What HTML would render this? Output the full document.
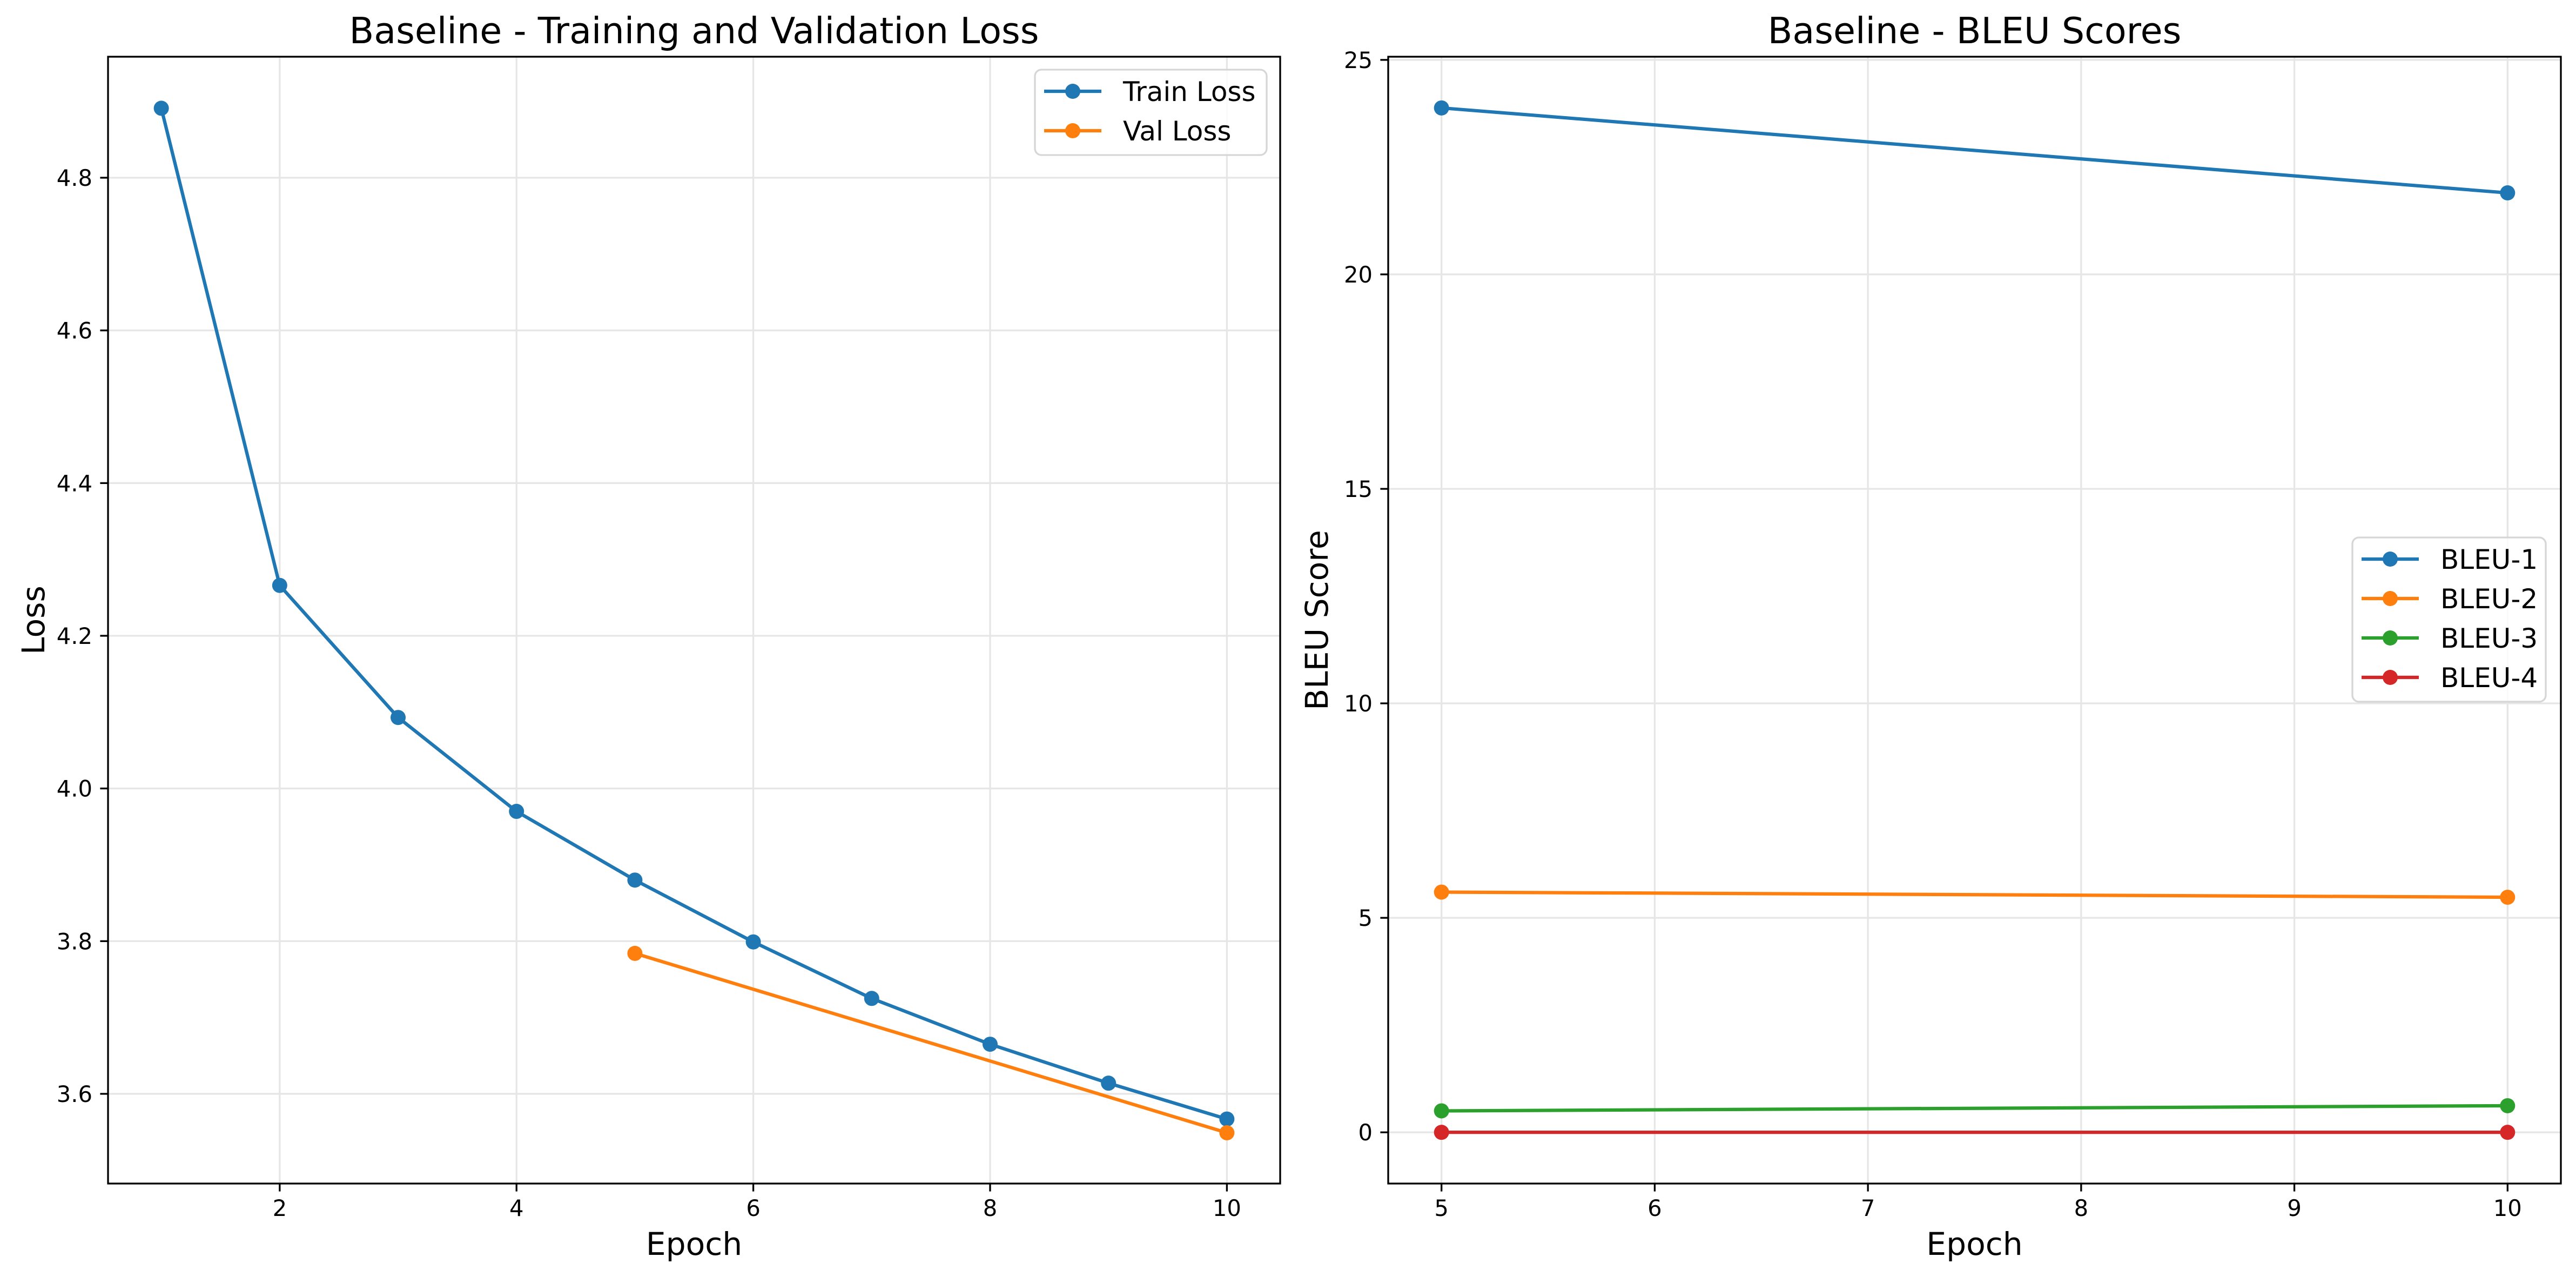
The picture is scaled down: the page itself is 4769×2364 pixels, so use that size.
<!DOCTYPE html>
<html><head><meta charset="utf-8"><style>
html,body{margin:0;padding:0;background:#fff;}
svg{display:block;font-family:"DejaVu Sans","Liberation Sans",sans-serif;}
</style></head><body>
<svg id="fig" width="4769" height="2364" viewBox="0 0 4769 2364" xmlns="http://www.w3.org/2000/svg"></svg>
<script>
const lossEpochs = [1,2,3,4,5,6,7,8,9,10];
const trainLoss = [4.891,4.266,4.093,3.970,3.880,3.799,3.725,3.665,3.614,3.567];
const valEpochs = [5,10];
const valLoss = [3.784,3.549];
const lossXTicks = [2,4,6,8,10];
const lossYTicks = [3.6,3.8,4.0,4.2,4.4,4.6,4.8];
const lossYTickLabels = ["3.6","3.8","4.0","4.2","4.4","4.6","4.8"];
const bleuEpochs = [5,10];
const bleu1 = [23.88,21.90];
const bleu2 = [5.60,5.48];
const bleu3 = [0.50,0.62];
const bleu4 = [0.00,0.00];
const bleuXTicks = [5,6,7,8,9,10];
const bleuYTicks = [0,5,10,15,20,25];

const NS="http://www.w3.org/2000/svg";
const svg=document.getElementById('fig');
function mk(tag,attrs,parent,text){const e=document.createElementNS(NS,tag);for(const k in attrs)e.setAttribute(k,attrs[k]);if(text!==undefined)e.textContent=text;(parent||svg).appendChild(e);return e;}
const C={blue:"#1f77b4",orange:"#ff7f0e",green:"#2ca02c",red:"#d62728"};
const MR=14;

function axes(o){
  const g=mk('g',{});
  
  
  const sx=v=>o.x0+(v-o.xmin)/(o.xmax-o.xmin)*(o.x1-o.x0);
  const sy=v=>o.y1-(v-o.ymin)/(o.ymax-o.ymin)*(o.y1-o.y0);
  o.xt.forEach(t=>{const l=mk('line',{x1:sx(t),x2:sx(t),y1:o.y0,y2:o.y1,stroke:"#e6e6e6","stroke-width":3.3},g);});
  o.yt.forEach(t=>{const l=mk('line',{x1:o.x0,x2:o.x1,y1:sy(t),y2:sy(t),stroke:"#e6e6e6","stroke-width":3.3},g);});
  o.series.forEach(s=>{
    const sg=mk('g',{},g);
    
    
    mk('polyline',{points:s.x.map((x,i)=>sx(x)+','+sy(s.y[i])).join(' '),fill:"none",stroke:s.c,"stroke-width":6.25,"stroke-linejoin":"round"},sg);
    s.x.forEach((x,i)=>{const c=mk('circle',{cx:sx(x),cy:sy(s.y[i]),r:MR,fill:s.c},sg);});
  });
  mk('rect',{x:o.x0,y:o.y0,width:o.x1-o.x0,height:o.y1-o.y0,fill:"none",stroke:"#000","stroke-width":3.3},g);
  o.xt.forEach((t,i)=>{mk('line',{x1:sx(t),x2:sx(t),y1:o.y1,y2:o.y1+14.6,stroke:"#000","stroke-width":3.3},g);
    const tx=mk('text',{x:sx(t),y:o.y1+60,"font-size":41.7,"text-anchor":"middle"},g,String(t));});
  o.yt.forEach((t,i)=>{mk('line',{x1:o.x0-14.6,x2:o.x0,y1:sy(t),y2:sy(t),stroke:"#000","stroke-width":3.3},g);
    const tx=mk('text',{x:o.x0-29,y:sy(t)+15,"font-size":41.7,"text-anchor":"end"},g,o.ytl[i]);});
  const ti=mk('text',{x:(o.x0+o.x1)/2,y:80,"font-size":66.7,"text-anchor":"middle"},g,o.title);
  const xl=mk('text',{x:(o.x0+o.x1)/2,y:2323,"font-size":58.3,"text-anchor":"middle"},g,"Epoch");
  const yl=mk('text',{x:0,y:0,"font-size":58.3,"text-anchor":"middle",transform:`translate(${o.ylx},${(o.y0+o.y1)/2}) rotate(-90)`},g,o.ylabel);
  const L=o.leg;
  const lg=mk('g',{},g);
  
  
  const h=40+73*(o.series.length-1)+45;
  mk('rect',{x:L.x,y:L.y,width:L.w,height:h,rx:12,fill:"#fff","fill-opacity":0.8,stroke:"#d6d6d6","stroke-width":3.3},lg);
  o.series.forEach((s,i)=>{const cy=L.y+40+73*i;
    const e=mk('g',{},lg);
    
    
    mk('line',{x1:L.x+17,x2:L.x+123,y1:cy,y2:cy,stroke:s.c,"stroke-width":6.25},e);
    mk('circle',{cx:L.x+70,cy:cy,r:MR,fill:s.c},e);
    mk('text',{x:L.x+163,y:cy+18,"font-size":50},e,s.label);
  });
}
axes({name:'loss-chart',x0:200,x1:2370,y0:105,y1:2191,xmin:0.55,xmax:10.45,ymin:3.4825,ymax:4.9585,
  xt:lossXTicks,yt:lossYTicks,ytl:lossYTickLabels,title:"Baseline - Training and Validation Loss",ylabel:"Loss",ylx:82,
  series:[{name:'train-loss-line',label:'Train Loss',x:lossEpochs,y:trainLoss,c:C.blue},{name:'val-loss-line',label:'Val Loss',x:valEpochs,y:valLoss,c:C.orange}],
  leg:{x:1916,y:129,w:429}});
axes({name:'bleu-chart',x0:2570,x1:4741,y0:105,y1:2191,xmin:4.75,xmax:10.25,ymin:-1.194,ymax:25.074,
  xt:bleuXTicks,yt:bleuYTicks,ytl:bleuYTicks.map(String),title:"Baseline - BLEU Scores",ylabel:"BLEU Score",ylx:2458,
  series:[{name:'bleu-1-line',label:'BLEU-1',x:bleuEpochs,y:bleu1,c:C.blue},{name:'bleu-2-line',label:'BLEU-2',x:bleuEpochs,y:bleu2,c:C.orange},{name:'bleu-3-line',label:'BLEU-3',x:bleuEpochs,y:bleu3,c:C.green},{name:'bleu-4-line',label:'BLEU-4',x:bleuEpochs,y:bleu4,c:C.red}],
  leg:{x:4355,y:995,w:358}});
</script>
</body></html>
